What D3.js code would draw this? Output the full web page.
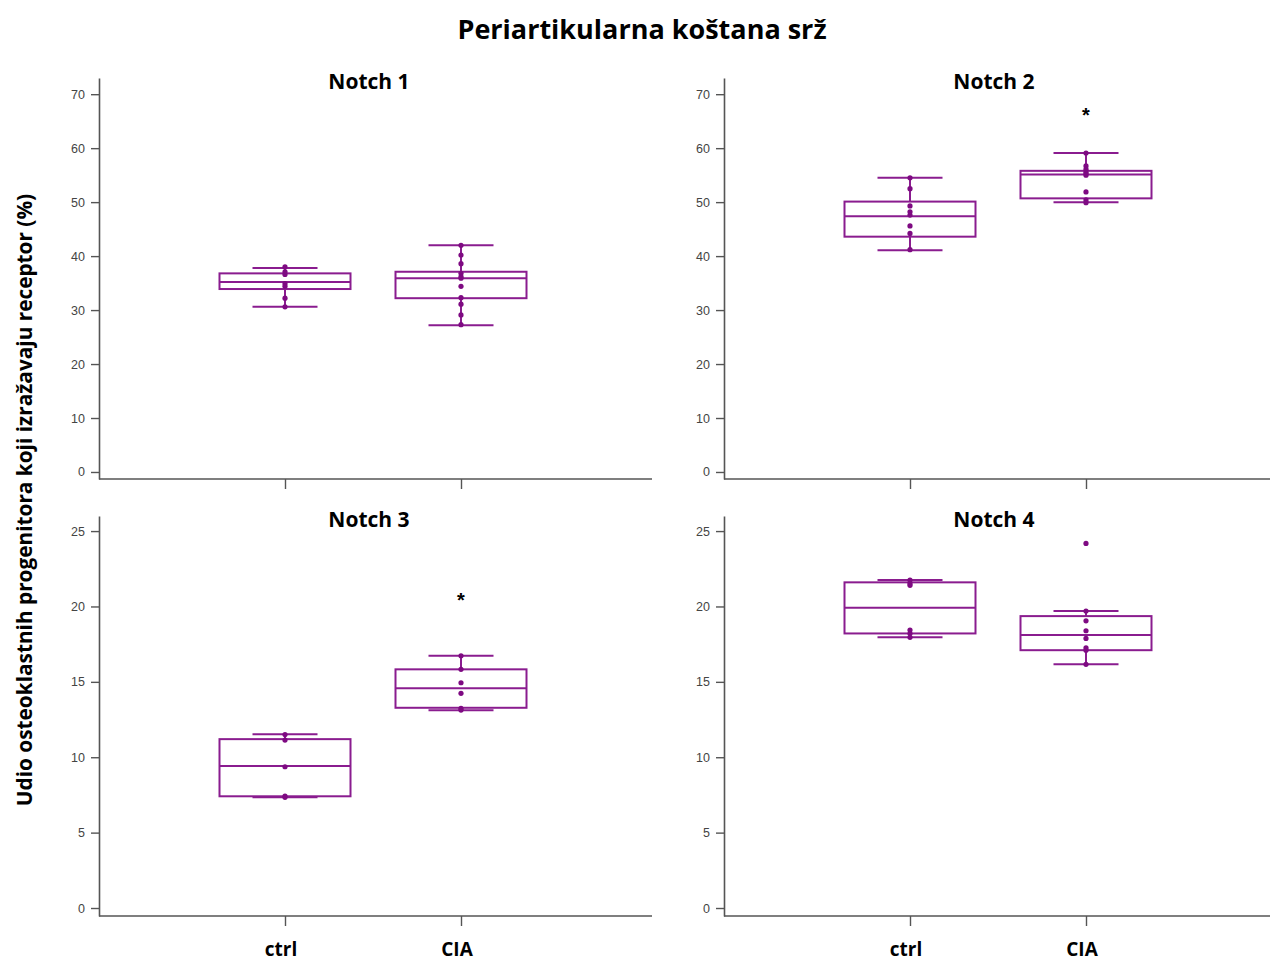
<!DOCTYPE html>
<html><head><meta charset="utf-8">
<script src="https://cdn.jsdelivr.net/npm/d3@7"></script>
<style>body{margin:0;background:#fff}svg{display:block}</style>
</head><body>
<script>
// ---- data ----
const categories = ["ctrl", "CIA"];
const panelTitles = ["Notch 1", "Notch 2", "Notch 3", "Notch 4"];
const yTicksTop = [0, 10, 20, 30, 40, 50, 60, 70];
const yTicksBottom = [0, 5, 10, 15, 20, 25];

// individual points per panel, per group [ctrl, CIA]
const pointsNotch1 = [[38.0, 37.1, 36.6, 34.9, 34.4, 32.2, 30.6],
                      [42.0, 40.2, 38.6, 36.8, 36.2, 35.9, 34.4, 32.3, 31.1, 29.1, 27.3]];
const pointsNotch2 = [[54.5, 52.5, 49.3, 48.2, 47.6, 45.6, 44.2, 41.2],
                      [59.1, 56.7, 56.1, 55.6, 55.3, 55.0, 51.9, 50.4, 49.9]];
const pointsNotch3 = [[11.5, 11.14, 9.37, 7.43, 7.34],
                      [16.73, 15.83, 14.94, 14.24, 13.24, 13.13]];
const pointsNotch4 = [[21.75, 21.53, 21.4, 18.44, 18.2, 17.95],
                      [24.18, 19.7, 19.05, 18.39, 17.88, 17.26, 17.1, 16.16]];

// box stats per group: [whiskerLow, q1, median, q3, whiskerHigh]
const boxNotch1 = [[30.6, 33.9, 35.2, 36.8, 37.8], [27.2, 32.2, 35.9, 37.1, 42.0]];
const boxNotch2 = [[41.1, 43.6, 47.4, 50.1, 54.5], [50.0, 50.7, 55.1, 55.8, 59.1]];
const boxNotch3 = [[7.34, 7.41, 9.42, 11.2, 11.52], [13.11, 13.28, 14.57, 15.83, 16.73]];
const boxNotch4 = [[17.95, 18.21, 19.91, 21.6, 21.75], [16.16, 17.1, 18.1, 19.36, 19.7]];

// significance star: [category, value]
const starNotch2 = ["CIA", 66.7];
const starNotch3 = ["CIA", 20.6];

const title = "Periartikularna koštana srž";
const yLabel = "Udio osteoklastnih progenitora koji izražavaju receptor (%)";

// ---- layout ----
const W = 1271, H = 961;
const purple = "#8a1c8f", dot = "#7e0a82", axisCol = "#555";
const svg = d3.select("body").append("svg").attr("width", W).attr("height", H);

const panels = [
  {title: panelTitles[0], pts: pointsNotch1, box: boxNotch1, star: null, x0: 99, x1: 652, yTop: 78, yBot: 479, dom: [-1.3, 73], ticks: yTicksTop, labels: false},
  {title: panelTitles[1], pts: pointsNotch2, box: boxNotch2, star: starNotch2, x0: 724, x1: 1270, yTop: 78, yBot: 479, dom: [-1.3, 73], ticks: yTicksTop, labels: false},
  {title: panelTitles[2], pts: pointsNotch3, box: boxNotch3, star: starNotch3, x0: 99, x1: 652, yTop: 516, yBot: 916, dom: [-0.53, 26], ticks: yTicksBottom, labels: true},
  {title: panelTitles[3], pts: pointsNotch4, box: boxNotch4, star: null, x0: 724, x1: 1270, yTop: 516, yBot: 916, dom: [-0.53, 26], ticks: yTicksBottom, labels: true}
];

svg.append("text").attr("x", 642).attr("y", 39).attr("text-anchor", "middle")
  .attr("font-family", "Open Sans, sans-serif").attr("font-weight", 700).attr("font-size", 27)
  .attr("fill", "#000").text(title);

svg.append("text").attr("transform", "translate(32,500) rotate(-90)").attr("text-anchor", "middle")
  .attr("font-family", "Open Sans, sans-serif").attr("font-weight", 700).attr("font-size", 20.8)
  .attr("fill", "#000").text(yLabel);

panels.forEach(p => {
  const g = svg.append("g");
  const y = d3.scaleLinear().domain(p.dom).range([p.yBot, p.yTop]);
  const x = d3.scalePoint().domain(categories).range([p.x0 + 186, p.x0 + 362]);

  // y axis
  const ya = g.append("g").attr("transform", `translate(${p.x0},0)`)
    .call(d3.axisLeft(y).tickValues(p.ticks).tickSize(8).tickSizeOuter(0).tickPadding(6));
  ya.select(".domain").attr("stroke", axisCol).attr("stroke-width", 1.6);
  ya.selectAll(".tick line").attr("stroke", axisCol).attr("stroke-width", 1.4);
  ya.selectAll(".tick text").attr("font-family", "Liberation Sans, Arial, sans-serif")
    .attr("font-size", 12.5).attr("fill", "#444");

  // x axis
  const xa = g.append("g").attr("transform", `translate(0,${p.yBot})`)
    .call(d3.axisBottom(x).tickSize(10).tickSizeOuter(0).tickFormat(""));
  xa.select(".domain").attr("d", `M${p.x0},0H${p.x1}`).attr("stroke", axisCol).attr("stroke-width", 1.6);
  xa.selectAll(".tick line").attr("stroke", axisCol).attr("stroke-width", 1.4);

  if (p.labels) {
    g.selectAll(".catlab").data(categories).enter().append("text")
      .attr("x", d => x(d) - 4).attr("y", p.yBot + 40).attr("text-anchor", "middle")
      .attr("font-family", "Open Sans, sans-serif").attr("font-weight", 700).attr("font-size", 19)
      .attr("fill", "#000").text(d => d);
  }

  // panel title
  g.append("text").attr("x", p.x0 + 270).attr("y", p.yTop + 11).attr("text-anchor", "middle")
    .attr("font-family", "Open Sans, sans-serif").attr("font-weight", 700).attr("font-size", 21)
    .attr("fill", "#000").text(p.title);

  const bw = 65.5, cw = 32.5;
  categories.forEach((c, i) => {
    const [lo, q1, med, q3, hi] = p.box[i];
    const cx = x(c);
    const bg = g.append("g").attr("stroke", purple).attr("stroke-width", 2).attr("fill", "none");
    bg.append("line").attr("x1", cx).attr("x2", cx).attr("y1", y(hi)).attr("y2", y(q3));
    bg.append("line").attr("x1", cx).attr("x2", cx).attr("y1", y(q1)).attr("y2", y(lo));
    bg.append("line").attr("x1", cx - cw).attr("x2", cx + cw).attr("y1", y(hi)).attr("y2", y(hi));
    bg.append("line").attr("x1", cx - cw).attr("x2", cx + cw).attr("y1", y(lo)).attr("y2", y(lo));
    bg.append("rect").attr("x", cx - bw).attr("width", 2 * bw).attr("y", y(q3)).attr("height", y(q1) - y(q3));
    bg.append("line").attr("x1", cx - bw).attr("x2", cx + bw).attr("y1", y(med)).attr("y2", y(med));
    g.selectAll(null).data(p.pts[i]).enter().append("circle")
      .attr("cx", cx).attr("cy", d => y(d)).attr("r", 2.6).attr("fill", dot);
  });

  if (p.star) {
    g.append("text").attr("x", x(p.star[0])).attr("y", y(p.star[1]) + 10).attr("text-anchor", "middle")
      .attr("font-family", "Liberation Sans, Arial, sans-serif").attr("font-weight", 700).attr("font-size", 20)
      .attr("fill", "#000").text("*");
  }
});
</script>
</body></html>
